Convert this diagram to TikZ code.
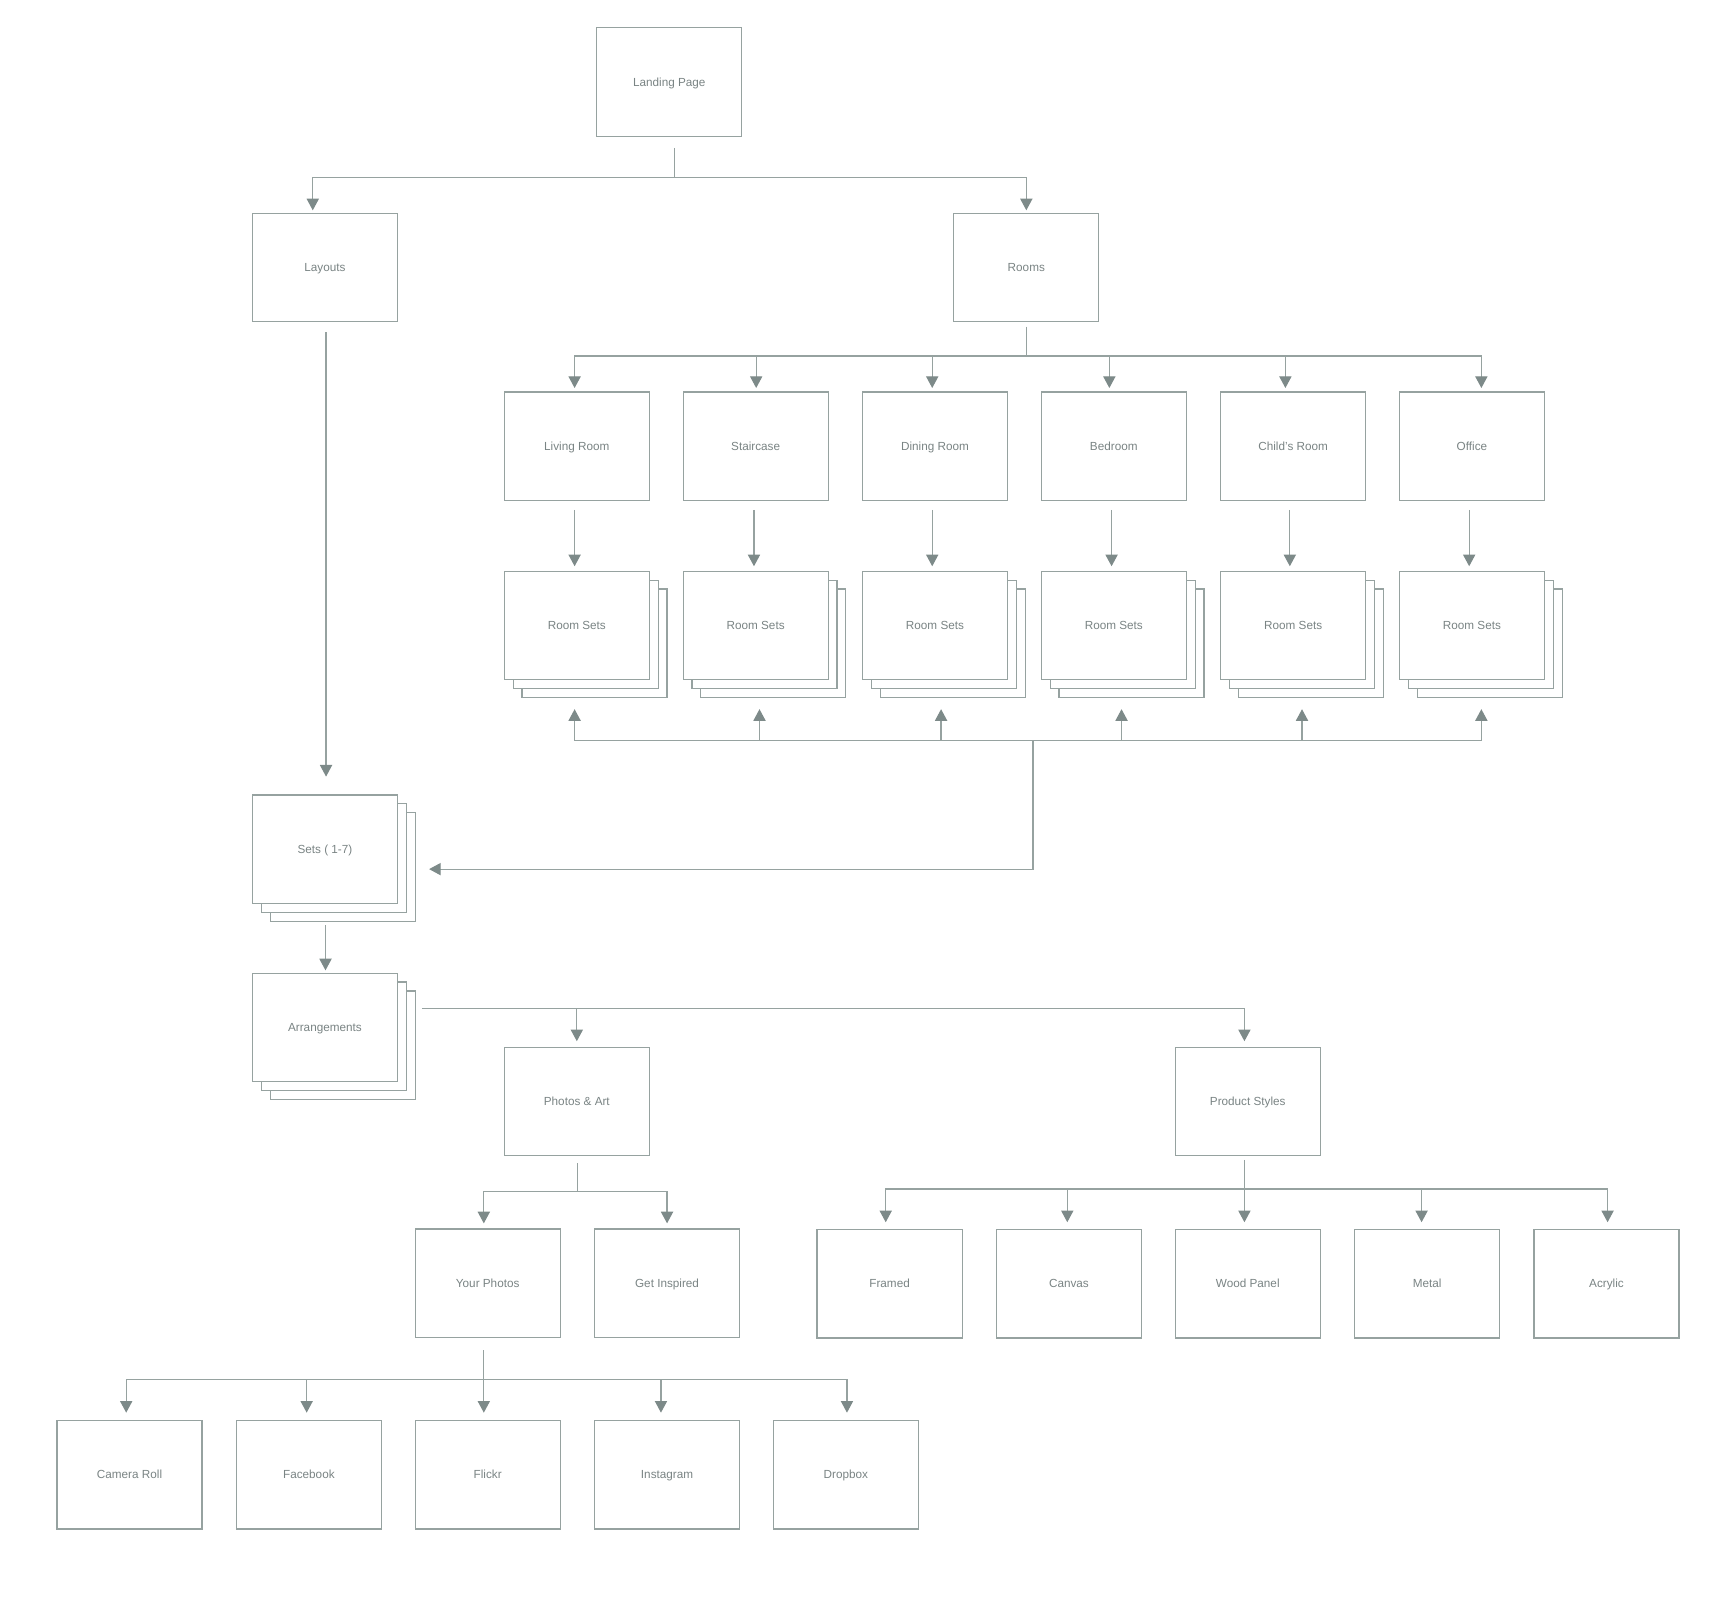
\documentclass[tikz,border=0pt]{standalone}
\usepackage{fontspec}
\setmainfont{Liberation Sans}
\usetikzlibrary{arrows.meta,shadows}
\definecolor{linegray}{RGB}{150,162,160}
\definecolor{tipgray}{RGB}{125,138,137}
\definecolor{textgray}{RGB}{122,132,132}
\tikzset{
	page/.style={draw=linegray, line width=1.1pt, fill=white, minimum width=131pt, minimum height=98pt,
		inner sep=0pt, text height=7.6pt, text depth=0pt, text=textgray, font=\fontsize{10.6}{12}\selectfont},
	pages/.style={page,
		general shadow={draw=linegray, fill=white, shadow xshift=16pt, shadow yshift=-16pt},
		general shadow={draw=linegray, fill=white, shadow xshift=8pt, shadow yshift=-8pt}},
	link/.style={draw=linegray, line width=1.1pt},
	arrow/.style={link, -{Triangle[length=10.5pt, width=11pt, color=tipgray]}},
}

\begin{document}
\begin{tikzpicture}[x=1pt, y=-1pt]
	\useasboundingbox (0,0) rectangle (1568,1454);
	% top
	\node[page] (landing) at (604.5,74) {Landing Page};
	\node[page] (layouts) at (293.5,241.5) {Layouts};
	\node[page] (rooms) at (927,241.5) {Rooms};
	% rooms
	\node[page] (living) at (521,403) {Living Room};
	\node[page] (stair) at (682.5,403) {Staircase};
	\node[page] (dining) at (844.5,403) {Dining Room};
	\node[page] (bed) at (1006,403) {Bedroom};
	\node[page] (child) at (1168,403) {Child's Room};
	\node[page] (office) at (1329.5,403) {Office};
	% room sets
	\node[pages] (livingset) at (521,565) {Room Sets};
	\node[pages] (stairset) at (682.5,565) {Room Sets};
	\node[pages] (diningset) at (844.5,565) {Room Sets};
	\node[pages] (bedset) at (1006,565) {Room Sets};
	\node[pages] (childset) at (1168,565) {Room Sets};
	\node[pages] (officeset) at (1329.5,565) {Room Sets};
	% left column
	\node[pages] (sets) at (293.5,767) {Sets ( 1-7)};
	\node[pages] (arrange) at (293.5,928) {Arrangements};
	% second level
	\node[page] (photos) at (521,995) {Photos \& Art};
	\node[page] (styles) at (1127,995) {Product Styles};
	\node[page] (yours) at (440.5,1159) {Your Photos};
	\node[page] (inspired) at (602.5,1159) {Get Inspired};
	% product styles
	\node[page] (framed) at (803.5,1159.5) {Framed};
	\node[page] (canvas) at (965.5,1159.5) {Canvas};
	\node[page] (wood) at (1127,1159.5) {Wood Panel};
	\node[page] (metal) at (1289,1159.5) {Metal};
	\node[page] (acrylic) at (1451,1159.5) {Acrylic};
	% sources
	\node[page] (camera) at (117,1332) {Camera Roll};
	\node[page] (facebook) at (279,1332) {Facebook};
	\node[page] (flickr) at (440.5,1332) {Flickr};
	\node[page] (instagram) at (602.5,1332) {Instagram};
	\node[page] (dropbox) at (764,1332) {Dropbox};
	% joints
	\coordinate (landingbus) at (609,160.5);
	\coordinate (roomsbus) at (927,321.5);
	\coordinate (setsbus) at (933,669);
	\coordinate (arrangebus) at ([xshift=21.5pt,yshift=17pt]arrange.east);
	\coordinate (photosbus) at (521.5,1076.5);
	\coordinate (stylesbus) at (1124,1074);
	\coordinate (yoursbus) at (437,1246);
	% connections
	\draw[link] ([xshift=4.5pt,yshift=-10pt]landing.south) -- (landingbus);
	\draw[arrow] (landingbus) -| ([xshift=-11pt,yshift=2pt]layouts.north);
	\draw[arrow] (landingbus) -| ([yshift=2pt]rooms.north);
	\draw[arrow] ([xshift=1pt,yshift=-9pt]layouts.south) -- ([xshift=1pt,yshift=16pt]sets.north);
	\draw[link] ([yshift=-4pt]rooms.south) -- (roomsbus);
	\foreach \room/\dx in {living/-2, stair/0.5, dining/-2.5, bed/-4, child/-7, office/8.5}
		\draw[arrow] (roomsbus) -| ([xshift=\dx pt,yshift=3pt]\room.north);
	\foreach \room/\dx in {living/-2, stair/-1.5, dining/-2.5, bed/-2, child/-3, office/-2.5}
		\draw[arrow] ([xshift=\dx pt,yshift=-8pt]\room.south) -- ([xshift=\dx pt,yshift=4pt]\room set.north);
	\foreach \room/\dx in {living/-2, stair/3.5, dining/5.5, bed/7, child/8, office/8.5}
		\draw[arrow] (setsbus) -| ([xshift=\dx pt,yshift=-26pt]\room set.south);
	\draw[arrow] (setsbus) |- ([xshift=28pt,yshift=-18pt]sets.east);
	\draw[arrow] ([xshift=0.5pt,yshift=-19pt]sets.south) -- ([xshift=0.5pt,yshift=2pt]arrange.north);
	\draw[arrow] (arrangebus) -| ([xshift=-3pt,yshift=5pt]styles.north);
	\draw[arrow] (arrangebus -| photos.north) -- ([yshift=5pt]photos.north);
	\draw[link] ([xshift=0.5pt,yshift=-6pt]photos.south) -- (photosbus);
	\draw[arrow] (photosbus) -| ([xshift=-3.5pt,yshift=4.5pt]yours.north);
	\draw[arrow] (photosbus) -| ([yshift=4.5pt]inspired.north);
	\draw[arrow] ([xshift=-3pt,yshift=-3pt]styles.south) -- ([xshift=-3pt,yshift=6pt]wood.north);
	\foreach \kind/\dx in {framed/-3.5, canvas/-1.5, metal/-5, acrylic/1}
		\draw[arrow] (stylesbus) -| ([xshift=\dx pt,yshift=6pt]\kind.north);
	\draw[link] ([xshift=-3.5pt,yshift=-11pt]yours.south) -- (yoursbus);
	\foreach \src/\dx in {camera/-3, facebook/-2, flickr/-3.5, instagram/-5.5, dropbox/1}
		\draw[arrow] (yoursbus) -| ([xshift=\dx pt,yshift=6.5pt]\src.north);
\end{tikzpicture}
\end{document}
